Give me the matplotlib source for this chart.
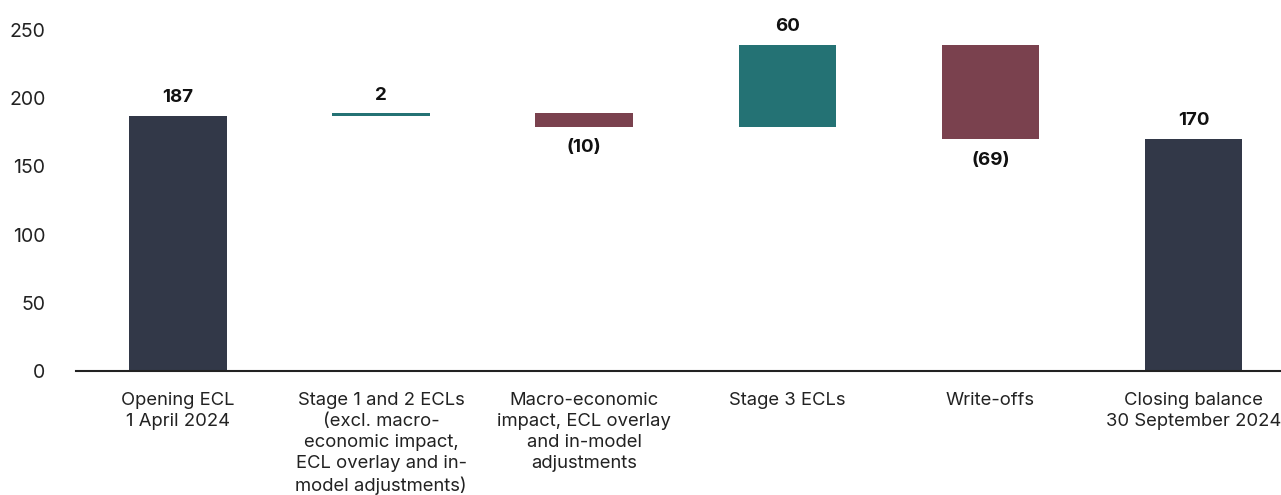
import matplotlib.pyplot as plt
import numpy as np

plt.rcParams['font.family'] = ['Inter', 'DejaVu Sans']

# waterfall data
categories = [
    "Opening ECL\n1 April 2024",
    "Stage 1 and 2 ECLs\n(excl. macro-\neconomic impact,\nECL overlay and in-\nmodel adjustments)",
    "Macro-economic\nimpact, ECL overlay\nand in-model\nadjustments",
    "Stage 3 ECLs",
    "Write-offs",
    "Closing balance\n30 September 2024",
]
changes = [187, 2, -10, 60, -69, 170]
is_total = [True, False, False, False, False, True]
labels = ["187", "2", "(10)", "60", "(69)", "170"]

navy = "#323848"
teal = "#247274"
maroon = "#7a414e"

bottoms, heights, colors = [], [], []
running = 0
for v, tot in zip(changes, is_total):
    if tot:
        bottoms.append(0)
        heights.append(v)
        colors.append(navy)
        running = v
    else:
        if v >= 0:
            bottoms.append(running)
        else:
            bottoms.append(running + v)
        heights.append(abs(v))
        colors.append(teal if v >= 0 else maroon)
        running += v

fig = plt.figure(figsize=(12.81, 4.95), dpi=100)
ax = fig.add_axes([0.0593, 0.2505, 0.9407, 0.7164])

x = np.arange(len(categories))
ax.bar(x, heights, bottom=bottoms, width=0.48, color=colors)

for i, (b, h, v) in enumerate(zip(bottoms, heights, changes)):
    if v >= 0 or is_total[i]:
        ax.annotate(labels[i], (x[i], b + h), xytext=(0, 7), textcoords="offset points",
                    ha="center", va="bottom", fontsize=13.5, fontweight="bold", color="#111111")
    else:
        ax.annotate(labels[i], (x[i], b), xytext=(0, -9), textcoords="offset points",
                    ha="center", va="top", fontsize=13.5, fontweight="bold", color="#111111")

ax.set_xlim(-0.502, 5.43)
ax.set_ylim(0, 260)
ax.set_yticks([0, 50, 100, 150, 200, 250])
ax.set_xticks(x)
ax.set_xticklabels(categories, fontsize=13.3, linespacing=1.32, color="#222222")
ax.tick_params(axis="y", length=0, pad=22, labelsize=14, labelcolor="#222222")
ax.tick_params(axis="x", length=0, pad=15)
for s in ["top", "right", "left"]:
    ax.spines[s].set_visible(False)
ax.spines["bottom"].set_linewidth(1.5)
ax.spines["bottom"].set_color("#222222")

fig.savefig("out.png", dpi=100)
